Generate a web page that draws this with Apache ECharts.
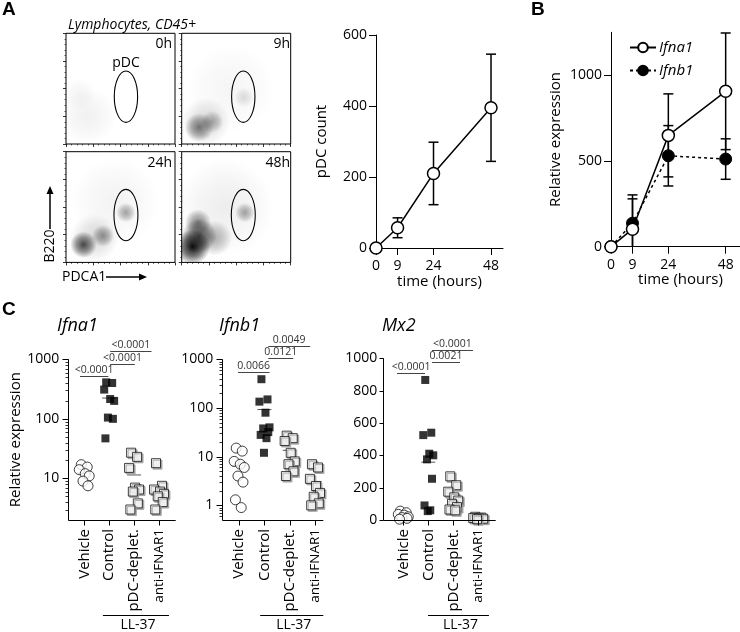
<!DOCTYPE html>
<html><head><meta charset="utf-8">
<script src="https://cdn.jsdelivr.net/npm/echarts@6/dist/echarts.min.js"></script>
<style>html,body{margin:0;padding:0;background:#fff}#c{width:740px;height:632px}</style>
</head><body><div id="c"></div>
<script>
// ---------------- data ----------------
const timeHours = [0, 9, 24, 48];
const timeTicks = [0, 9, 24, 48];
const pdcCountMean = [0, 57, 210, 395];
const pdcCountErr = [0, 28, 88, 151];
const ifna1TimeMean = [0, 102, 649, 906];
const ifna1TimeErr = [0, 177, 242, 340];
const ifnb1TimeMean = [0, 137, 530, 511];
const ifnb1TimeErr = [0, 165, 176, 118];
const pdcTicks = [0, 200, 400, 600];
const bTicks = [0, 500, 1000];

const groups = ['Vehicle', 'Control', 'pDC-deplet.', 'anti-IFNAR1'];
const ifna1Vehicle = [17, 15.5, 14, 12, 11, 9, 7.5];
const ifna1Control = [410, 400, 310, 215, 200, 105, 100, 47];
const ifna1Pdc = [27, 23, 15, 7, 6.5, 6, 3.8, 3];
const ifna1Anti = [18, 7.5, 6.5, 6, 5.5, 5, 4, 3];
const ifnb1Vehicle = [15, 13, 8, 7, 6, 4, 3, 1.3, 0.9];
const ifnb1Control = [390, 150, 135, 80, 40, 38, 32, 28, 24, 12];
const ifnb1Pdc = [27, 24, 21, 12, 8, 7, 5, 4];
const ifnb1Anti = [7, 6, 3.5, 2.5, 1.8, 1.5, 1.1, 1];
const mx2Vehicle = [55, 45, 35, 30, 20, 15, 10, 5];
const mx2Control = [866, 540, 525, 410, 400, 375, 255, 90, 60, 55];
const mx2Pdc = [270, 215, 175, 140, 120, 100, 80, 65, 60];
const mx2Anti = [20, 15, 12, 10, 8, 5];

const ifna1Pvalues = ['<0.0001', '<0.0001', '<0.0001'];
const ifnb1Pvalues = ['0.0066', '0.0121', '0.0049'];
const mx2Pvalues = ['<0.0001', '0.0021', '<0.0001'];

const ifna1Major = [10, 100, 1000];
const ifna1Minor = [3,4,5,6,7,8,9,20,30,40,50,60,70,80,90,200,300,400,500,600,700,800,900];
const ifnb1Major = [1, 10, 100, 1000];
const ifnb1Minor = [0.6,0.7,0.8,0.9,2,3,4,5,6,7,8,9,20,30,40,50,60,70,80,90,200,300,400,500,600,700,800,900];
const mx2Ticks = [0, 200, 400, 600, 800, 1000];
const catTicks = [0, 1, 2, 3];

const flowLabels = ['0h', '9h', '24h', '48h'];
// density clouds: [cx%, cy%, rx%, ry%, darkness, tilt deg]
const flowClouds0 = [[20, 25, 30, 26, 0.06, 20], [12, 45, 15, 15, 0.04, 0]];
const flowClouds9 = [[16, 15, 20, 13, 0.5, 20], [28, 20, 18, 10, 0.3, 25], [22, 20, 32, 22, 0.15, 20], [57, 42, 9, 20, 0.12, 0], [45, 50, 45, 40, 0.04, 0]];
const flowClouds24 = [[16, 16, 22, 12, 0.7, 22], [34, 24, 18, 10, 0.4, 25], [26, 22, 38, 22, 0.15, 20], [55, 45, 9, 14, 0.35, 0], [45, 55, 45, 40, 0.05, 0]];
const flowClouds48 = [[10, 14, 16, 18, 0.95, 0], [16, 24, 16, 18, 0.65, 10], [15, 36, 15, 12, 0.45, 0], [30, 22, 22, 16, 0.3, 20], [58, 45, 9, 14, 0.35, 0], [40, 50, 45, 45, 0.07, 0]];
const flowGates = [[55, 42.7, 10.7, 23.2], [56.5, 42.7, 10.7, 23.2], [55, 42.8, 11, 23.2], [56.5, 42.8, 11, 23.2]];

// ---------------- layout / style ----------------
const FONT = 'Open Sans';
const jitter = [-0.12, 0.12, -0.2, 0.04, 0.2, -0.05, 0.15, -0.15, 0.08, -0.02];
const bracketSpans = {
  ifna1: [[-0.17, 0.97], [1.04, 2.03], [1.04, 2.7]],
  ifnb1: [[-0.05, 1.2], [1.15, 2.14], [1.15, 2.81]],
  mx2: [[-0.25, 0.87], [1.15, 2.27], [1.15, 2.79]]
};
const bracketLevels = { ifna1: [17, 5, -8], ifnb1: [12.4, -1, -13.6], mx2: [14.4, 3.4, -8.3] };
const llSpans = { ifna1: [0.75, 3.4], ifnb1: [0.83, 3.33], mx2: [0.99, 3.43] };

const flowBoxes = [[66, 33.3], [181.7, 33.3], [66, 151.7], [181.7, 151.7]];

const chart = echarts.init(document.getElementById('c'), null, { renderer: 'canvas' });

const grids = [];
const xAxes = [];
const yAxes = [];
const series = [];

// ---- flow grids ----
const cloudsAll = [flowClouds0, flowClouds9, flowClouds24, flowClouds48];
flowBoxes.forEach((b, i) => {
  grids.push({ left: b[0], top: b[1], width: 109, height: 110.7, show: true, borderColor: '#000', borderWidth: 1, backgroundColor: 'transparent' });
  const fa = () => ({ type: 'value', gridIndex: i, min: 0, max: 100, interval: 25,
    axisLine: { show: false, onZero: false }, axisLabel: { show: false }, splitLine: { show: false },
    axisTick: { show: true, length: 3, lineStyle: { color: '#000', width: 0.8 } },
    minorTick: { show: true, splitNumber: 5, length: 1.5, lineStyle: { color: '#000', width: 0.6 } } });
  xAxes.push(fa());
  yAxes.push(fa());
  series.push({
    type: 'custom', xAxisIndex: i, yAxisIndex: i, clip: true, silent: true, z: 1,
    data: cloudsAll[i],
    renderItem(params, api) {
      const c = api.coord([api.value(0), api.value(1)]);
      const s = api.size([api.value(2), api.value(3)]);
      const d = api.value(4);
      return { type: 'ellipse', shape: { cx: c[0], cy: c[1], rx: s[0], ry: s[1] },
        rotation: api.value(5) * Math.PI / 180, originX: c[0], originY: c[1],
        style: { fill: { type: 'radial', x: 0.5, y: 0.5, r: 0.5, colorStops: [
          { offset: 0, color: 'rgba(0,0,0,' + d + ')' },
          { offset: 0.55, color: 'rgba(0,0,0,' + (d * 0.55) + ')' },
          { offset: 1, color: 'rgba(0,0,0,0)' }] } } };
    }
  });
  series.push({
    type: 'custom', xAxisIndex: i, yAxisIndex: i, clip: true, silent: true, z: 2,
    data: [flowGates[i]],
    renderItem(params, api) {
      const c = api.coord([api.value(0), api.value(1)]);
      const s = api.size([api.value(2), api.value(3)]);
      return { type: 'ellipse', shape: { cx: c[0], cy: c[1], rx: s[0], ry: s[1] },
        style: { fill: 'none', stroke: '#000', lineWidth: 1.1 } };
    }
  });
});

const axLine = () => ({ show: true, onZero: false, lineStyle: { color: '#000', width: 1 } });
const tickStyle = () => ({ color: '#000', width: 1 });
const labStyle = () => ({ color: '#000', fontSize: 14, fontFamily: FONT });

function errSeries(xi, yi, mean, err) {
  return {
    type: 'custom', xAxisIndex: xi, yAxisIndex: yi, z: 2, clip: false, silent: true,
    data: timeHours.map((t, i) => [t, mean[i], mean[i] - err[i], mean[i] + err[i]]),
    encode: { x: 0, y: [1, 2, 3] },
    renderItem(params, api) {
      const hi = api.value(3), lo = api.value(2);
      if (hi === lo) return null;
      const w = 5;
      const top = api.coord([api.value(0), hi]);
      const bot = api.coord([api.value(0), Math.max(0, lo)]);
      const ch = [
        { type: 'line', shape: { x1: top[0], y1: top[1], x2: bot[0], y2: bot[1] }, style: { stroke: '#000', lineWidth: 1.5 } },
        { type: 'line', shape: { x1: top[0] - w, y1: top[1], x2: top[0] + w, y2: top[1] }, style: { stroke: '#000', lineWidth: 1.5 } }
      ];
      if (lo > 0) ch.push({ type: 'line', shape: { x1: bot[0] - w, y1: bot[1], x2: bot[0] + w, y2: bot[1] }, style: { stroke: '#000', lineWidth: 1.5 } });
      return { type: 'group', children: ch };
    }
  };
}

// ---- pDC count (grid 4) ----
grids.push({ left: 376, top: 35, width: 127, height: 213 });
xAxes.push({ type: 'value', gridIndex: 4, min: 0, max: 53, axisLine: axLine(), splitLine: { show: false },
  axisTick: { show: true, length: 7, lineStyle: tickStyle(), customValues: timeTicks },
  axisLabel: Object.assign({ margin: 11, customValues: timeTicks, formatter: v => String(v) }, labStyle()),
  name: 'time (hours)', nameLocation: 'middle', nameGap: 26, nameTextStyle: { color: '#000', fontSize: 15, fontFamily: FONT } });
yAxes.push({ type: 'value', gridIndex: 4, min: 0, max: 600, axisLine: axLine(), splitLine: { show: false },
  axisTick: { show: true, length: 7, lineStyle: tickStyle(), customValues: pdcTicks },
  axisLabel: Object.assign({ margin: 9, customValues: pdcTicks, formatter: v => String(v) }, labStyle()),
  name: 'pDC count', nameLocation: 'middle', nameGap: 47, nameTextStyle: { color: '#000', fontSize: 15, fontFamily: FONT } });
series.push(errSeries(4, 4, pdcCountMean, pdcCountErr));
series.push({ type: 'line', name: 'pDC', xAxisIndex: 4, yAxisIndex: 4, z: 3, silent: true,
  data: timeHours.map((t, i) => [t, pdcCountMean[i]]),
  symbol: 'circle', symbolSize: 12, showAllSymbol: true,
  itemStyle: { color: '#fff', borderColor: '#000', borderWidth: 1.5 },
  lineStyle: { color: '#000', width: 1.5 } });

// ---- panel B (grid 5) ----
grids.push({ left: 611, top: 32.3, width: 129, height: 214.4 });
xAxes.push({ type: 'value', gridIndex: 5, min: 0, max: 54, axisLine: axLine(), splitLine: { show: false },
  axisTick: { show: true, length: 7, lineStyle: tickStyle(), customValues: timeTicks },
  axisLabel: Object.assign({ margin: 11, customValues: timeTicks, formatter: v => String(v) }, labStyle()),
  name: 'time (hours)', nameLocation: 'middle', nameGap: 26, nameTextStyle: { color: '#000', fontSize: 15, fontFamily: FONT, padding: [0, 0, 0, 10] } });
yAxes.push({ type: 'value', gridIndex: 5, min: 0, max: 1250, axisLine: axLine(), splitLine: { show: false },
  axisTick: { show: true, length: 7, lineStyle: tickStyle(), customValues: bTicks },
  axisLabel: Object.assign({ margin: 9, customValues: bTicks, formatter: v => String(v) }, labStyle()),
  name: 'Relative expression', nameLocation: 'middle', nameGap: 48, nameTextStyle: { color: '#000', fontSize: 15, fontFamily: FONT } });
series.push(errSeries(5, 5, ifnb1TimeMean, ifnb1TimeErr));
series.push(errSeries(5, 5, ifna1TimeMean, ifna1TimeErr));
series.push({ type: 'line', name: 'Ifnb1', xAxisIndex: 5, yAxisIndex: 5, z: 3, silent: true,
  data: timeHours.map((t, i) => [t, ifnb1TimeMean[i]]),
  symbol: 'circle', symbolSize: 12, showAllSymbol: true,
  itemStyle: { color: '#000', borderColor: '#000', borderWidth: 1 },
  lineStyle: { color: '#000', width: 1.5, type: [3, 3] } });
series.push({ type: 'line', name: 'Ifna1', xAxisIndex: 5, yAxisIndex: 5, z: 4, silent: true,
  data: timeHours.map((t, i) => [t, ifna1TimeMean[i]]),
  symbol: 'circle', symbolSize: 12, showAllSymbol: true,
  itemStyle: { color: '#fff', borderColor: '#000', borderWidth: 1.5 },
  lineStyle: { color: '#000', width: 1.5 } });

// ---- panel C ----
const openSq = () => ({ symbol: 'rect', symbolSize: 9, itemStyle: { color: '#fff', borderColor: '#111', borderWidth: 1, shadowColor: '#999', shadowOffsetX: 1.5, shadowOffsetY: 1.5, shadowBlur: 0 } });
const groupStyles = [
  { symbol: 'circle', symbolSize: 10, itemStyle: { color: '#fff', borderColor: '#111', borderWidth: 1 } },
  { symbol: 'rect', symbolSize: 8, itemStyle: { color: '#000' } },
  openSq(), openSq()
];
const mean = a => a.reduce((s, v) => s + v, 0) / a.length;

function catXAxis(gi, min, max) {
  return { type: 'value', gridIndex: gi, min: min, max: max,
    axisLine: { show: false, onZero: false }, splitLine: { show: false }, axisTick: { show: false },
    axisLabel: { margin: 9, rotate: 90, customValues: catTicks, color: '#000', fontSize: 15, fontFamily: FONT,
      formatter: v => v === 3 ? '{s|' + groups[v] + '}' : groups[v],
      rich: { s: { fontSize: 13.5, fontFamily: FONT, color: '#000' } } } };
}

function panelSeries(xi, yi, arrs, pvals, key, dummyY) {
  const out = [];
  out.push({ type: 'custom', xAxisIndex: xi, yAxisIndex: yi, z: 2, silent: true, clip: false,
    data: arrs.map((a, i) => [i, mean(a)]),
    renderItem(params, api) {
      const p = api.coord([api.value(0), api.value(1)]);
      return { type: 'line', shape: { x1: p[0] - 7, y1: p[1], x2: p[0] + 7, y2: p[1] }, style: { stroke: '#555', lineWidth: 1 } };
    } });
  arrs.forEach((arr, gi) => {
    out.push(Object.assign({ type: 'scatter', xAxisIndex: xi, yAxisIndex: yi, z: 3, silent: true, clip: false,
      data: arr.map((v, j) => [gi + jitter[j % jitter.length], v]) }, groupStyles[gi]));
  });
  const spans = bracketSpans[key], levels = bracketLevels[key];
  out.push({ type: 'custom', xAxisIndex: xi, yAxisIndex: yi, z: 5, silent: true, clip: false,
    data: pvals.map((p, i) => [spans[i][0], spans[i][1], dummyY]),
    encode: { x: [0, 1], y: 2 },
    renderItem(params, api) {
      const i = params.dataIndex;
      const x1 = api.coord([api.value(0), dummyY])[0];
      const x2 = api.coord([api.value(1), dummyY])[0];
      const y = Math.round(params.coordSys.y + levels[i]) + 0.5;
      return { type: 'group', children: [
        { type: 'line', shape: { x1: x1, y1: y, x2: x2, y2: y }, style: { stroke: '#444', lineWidth: 1 } },
        { type: 'text', style: { text: pvals[i], x: (x1 + x2) / 2, y: y - 0.5, align: 'center', verticalAlign: 'bottom', fontSize: 10.5, fontFamily: FONT, fill: '#333' } }
      ] };
    } });
  const ll = llSpans[key];
  out.push({ type: 'custom', xAxisIndex: xi, yAxisIndex: yi, z: 5, silent: true, clip: false,
    data: [[ll[0], ll[1], dummyY]],
    encode: { x: [0, 1], y: 2 },
    renderItem(params, api) {
      const x1 = api.coord([api.value(0), dummyY])[0];
      const x2 = api.coord([api.value(1), dummyY])[0];
      const y = 615.5;
      return { type: 'group', children: [
        { type: 'line', shape: { x1: x1, y1: y, x2: x2, y2: y }, style: { stroke: '#000', lineWidth: 1 } },
        { type: 'text', style: { text: 'LL-37', x: (x1 + x2) / 2 + 2, y: y + 3, align: 'center', verticalAlign: 'top', fontSize: 14, fontFamily: FONT, fill: '#000' } }
      ] };
    } });
  return out;
}

const yLab = (cv, margin) => Object.assign({ margin: margin, customValues: cv, formatter: v => String(v) }, labStyle());

// Ifna1 grid 6 / yAxis 6
grids.push({ left: 68.3, top: 359.3, width: 107.4, height: 160.7 });
xAxes.push(catXAxis(6, -0.64, 3.67));
yAxes.push({ type: 'log', gridIndex: 6, min: 2, max: 1000, axisLine: { show: false, onZero: false }, splitLine: { show: false }, axisTick: { show: false },
  axisLabel: yLab(ifna1Major, 9),
  name: 'Relative expression', nameLocation: 'middle', nameGap: 40, nameTextStyle: { color: '#000', fontSize: 15, fontFamily: FONT } });
panelSeries(6, 6, [ifna1Vehicle, ifna1Control, ifna1Pdc, ifna1Anti], ifna1Pvalues, 'ifna1', 10).forEach(s => series.push(s));

// Ifnb1 grid 7 / yAxis 7
grids.push({ left: 222.3, top: 359.3, width: 101, height: 160.7 });
xAxes.push(catXAxis(7, -0.67, 3.33));
yAxes.push({ type: 'log', gridIndex: 7, min: 0.5, max: 1000, axisLine: { show: false, onZero: false }, splitLine: { show: false }, axisTick: { show: false },
  axisLabel: yLab(ifnb1Major, 9) });
panelSeries(7, 7, [ifnb1Vehicle, ifnb1Control, ifnb1Pdc, ifnb1Anti], ifnb1Pvalues, 'ifnb1', 10).forEach(s => series.push(s));

// Mx2 grid 8 / yAxis 8
grids.push({ left: 383.3, top: 358.3, width: 112.4, height: 161.7 });
xAxes.push(catXAxis(8, -0.8, 3.7));
yAxes.push({ type: 'value', gridIndex: 8, min: 0, max: 1000, axisLine: { show: false, onZero: false }, splitLine: { show: false }, axisTick: { show: false },
  axisLabel: yLab(mx2Ticks, 6) });
panelSeries(8, 8, [mx2Vehicle, mx2Control, mx2Pdc, mx2Anti], mx2Pvalues, 'mx2', 500).forEach(s => series.push(s));

// panel C axis frames (positions come from the axes' own scales via convertToPixel)
const framePanels = [
  { xi: 6, yi: 6, xMin: -0.64, xMax: 3.67, yMin: 2, yMax: 1000, major: ifna1Major, minor: ifna1Minor, len: 6 },
  { xi: 7, yi: 7, xMin: -0.67, xMax: 3.33, yMin: 0.5, yMax: 1000, major: ifnb1Major, minor: ifnb1Minor, len: 6 },
  { xi: 8, yi: 8, xMin: -0.8, xMax: 3.7, yMin: 0, yMax: 1000, major: mx2Ticks, minor: [], len: 4 }
];

// ---- free text ----
const T = (text, x, y, o) => ({ type: 'text', x: x, y: y, silent: true,
  style: Object.assign({ text: text, fontFamily: FONT, fontSize: 14, fill: '#000', align: 'left', verticalAlign: 'middle' }, o || {}) });
const graphics = [
  T('A', 2, 10, { fontSize: 19, fontWeight: 'bold', fontFamily: 'Liberation Sans' }),
  T('B', 531, 10, { fontSize: 19, fontWeight: 'bold', fontFamily: 'Liberation Sans' }),
  T('C', 2, 310, { fontSize: 19, fontWeight: 'bold', fontFamily: 'Liberation Sans' }),
  T('Lymphocytes, CD45+', 68, 25, { fontStyle: 'italic', fontSize: 14 }),
  T('pDC', 126, 63, { align: 'center', fontSize: 14 }),
  T(flowLabels[0], 172, 44, { align: 'right' }),
  T(flowLabels[1], 290, 44, { align: 'right' }),
  T(flowLabels[2], 172, 163, { align: 'right' }),
  T(flowLabels[3], 290, 163, { align: 'right' }),
  { type: 'text', x: 50, y: 246, rotation: Math.PI / 2, silent: true,
    style: { text: 'B220', fontFamily: FONT, fontSize: 14, fill: '#000', align: 'center', verticalAlign: 'middle' } },
  { type: 'line', silent: true, shape: { x1: 50, y1: 229, x2: 50, y2: 192 }, style: { stroke: '#000', lineWidth: 1.5 } },
  { type: 'polygon', silent: true, shape: { points: [[50, 186], [46.5, 194], [53.5, 194]] }, style: { fill: '#000' } },
  T('PDCA1', 62, 277, { fontSize: 14 }),
  { type: 'line', silent: true, shape: { x1: 106, y1: 277, x2: 141, y2: 277 }, style: { stroke: '#000', lineWidth: 1.5 } },
  { type: 'polygon', silent: true, shape: { points: [[147, 277], [139, 273.5], [139, 280.5]] }, style: { fill: '#000' } },
  T('Ifna1', 57, 326, { fontStyle: 'italic', fontSize: 18 }),
  T('Ifnb1', 219, 326, { fontStyle: 'italic', fontSize: 18 }),
  T('Mx2', 382, 326, { fontStyle: 'italic', fontSize: 18 })
];

chart.setOption({
  animation: false,
  backgroundColor: '#fff',
  textStyle: { fontFamily: FONT },
  grid: grids,
  xAxis: xAxes,
  yAxis: yAxes,
  legend: { show: true, data: ['Ifna1', 'Ifnb1'], left: 624, top: 35, orient: 'vertical',
    itemWidth: 26, itemHeight: 12, itemGap: 8, selectedMode: false,
    textStyle: { fontStyle: 'italic', fontSize: 15, fontFamily: FONT, color: '#000', padding: [0, 0, 0, -2] } },
  series: series,
  graphic: graphics
});

// second pass: axis frames + ticks for panel C, on a separate top layer
const frameEls = [];
framePanels.forEach(p => {
  const f = (x, y) => chart.convertToPixel({ xAxisIndex: p.xi, yAxisIndex: p.yi }, [x, y]);
  const bl = f(p.xMin, p.yMin), tl = f(p.xMin, p.yMax), br = f(p.xMax, p.yMin);
  if (!bl || !tl || !br) return;
  const L = Math.round(bl[0]) + 0.5, B = Math.round(bl[1]) + 0.5;
  const line = (x1, y1, x2, y2, w) => ({ type: 'line', silent: true, zlevel: 1, z: 100,
    shape: { x1: x1, y1: y1, x2: x2, y2: y2 }, style: { stroke: '#000', lineWidth: w || 1 } });
  frameEls.push(line(L, tl[1], L, B));
  frameEls.push(line(L, B, br[0], B));
  p.major.forEach(v => { const y = Math.round(f(p.xMin, v)[1]) + 0.5; frameEls.push(line(L - p.len, y, L, y)); });
  p.minor.forEach(v => { const y = Math.round(f(p.xMin, v)[1]) + 0.5; frameEls.push(line(L - 3, y, L, y, 0.8)); });
  catTicks.forEach(c => { const x = Math.round(f(c, p.yMin)[0]) + 0.5; frameEls.push(line(x, B, x, B + 5)); });
});
chart.setOption({ graphic: graphics.concat(frameEls) });
</script></body></html>
